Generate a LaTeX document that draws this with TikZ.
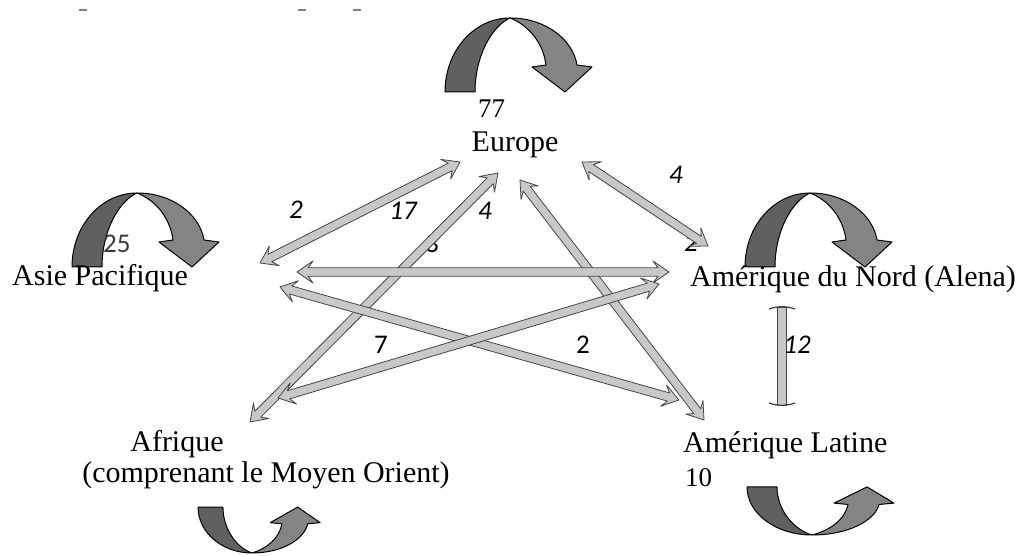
\documentclass[tikz,border=0pt]{standalone}
\usepackage{fontspec}
\setmainfont{Liberation Serif}
\newfontfamily\numfont{Carlito}
\usetikzlibrary{calc}
\definecolor{arrfill}{RGB}{200,200,200}
\definecolor{arrline}{RGB}{70,70,70}
\definecolor{loopdk}{RGB}{96,96,96}
\definecolor{looplt}{RGB}{132,132,132}
\definecolor{numgray}{RGB}{60,60,60}
\newcommand\myHW{11pt}
\newcommand\myHL{16pt}
\newcommand\myJL{11pt}
\newcommand\mySW{4.2pt}
\newcommand\dblarrow[2]{%
 \path[barrow] let \p1=($(#2)-(#1)$), \n1={atan2(\y1,\x1)}, \n2={\n1+90} in
 (#1) -- ($(#1)+(\n1:\myHL)+(\n2:\myHW)$) -- ($(#1)+(\n1:\myJL)+(\n2:\mySW)$)
 -- ($(#2)+(\n1:-\myJL)+(\n2:\mySW)$) -- ($(#2)+(\n1:-\myHL)+(\n2:\myHW)$) -- (#2)
 -- ($(#2)+(\n1:-\myHL)+(\n2:-\myHW)$) -- ($(#2)+(\n1:-\myJL)+(\n2:-\mySW)$)
 -- ($(#1)+(\n1:\myJL)+(\n2:-\mySW)$) -- ($(#1)+(\n1:\myHL)+(\n2:-\myHW)$) -- cycle;}
\newcommand\selfloop[4]{%
 \begin{scope}[shift={(#1,#2)}, xscale=#3, yscale=#4]
  \path[loopdark] (-65,-74) .. controls (-65,-33) and (-36,0) .. (0,0)
     .. controls (-18,-8) and (-35,-38) .. (-35,-74) -- cycle;
  \path[looplight] (0,0) .. controls (36,0) and (63,-22) .. (67,-47) -- (82,-49)
     -- (55,-74) -- (22,-49) -- (36,-47) .. controls (33,-24) and (18,-7) .. (0,0) -- cycle;
 \end{scope}}
\tikzset{
 barrow/.style={fill=arrfill, draw=arrline, line width=0.8pt, line join=round},
 tbar/.style={draw=arrline, line width=1.3pt},
 loopdark/.style={fill=loopdk, draw=black, line width=1pt, line join=round},
 looplight/.style={fill=looplt, draw=black, line width=1pt, line join=round},
 region/.style={font=\fontsize{30}{35}\selectfont, inner sep=0pt},
 inum/.style={font=\numfont\itshape\fontsize{27}{32}\selectfont, inner sep=0pt},
 unum/.style={font=\numfont\fontsize{27}{32}\selectfont, inner sep=0pt},
 snum/.style={font=\fontsize{27}{32}\selectfont, inner sep=0pt},
 tick/.style={draw=gray, line width=1.5pt}
}
\begin{document}
\begin{tikzpicture}[x=1pt,y=1pt]
\useasboundingbox (0,0) rectangle (1019,556);
\fill[white] (0,0) rectangle (1019,556);
% tiny marks at top
\draw[tick] (79,546) -- (87,546);
\draw[tick] (298,546) -- (306,546);
\draw[tick] (353,546) -- (361,546);
% hidden labels (drawn first)
\node[unum] (h3) at (432,312) {3};
\node[inum] (h2) at (691,313) {2};
\node[snum] (h8) at (213,38) {8};
% arrow end points
\coordinate (A1) at (260,293); \coordinate (E1) at (460,394);
\coordinate (F2) at (250,134); \coordinate (E2) at (498,383);
\coordinate (E3) at (520,376); \coordinate (L3) at (704,136);
\coordinate (E4) at (582,394); \coordinate (N4) at (708,310);
\coordinate (A5) at (297,284); \coordinate (N5) at (669,284);
\coordinate (A6) at (280,269); \coordinate (L6) at (679,156);
\coordinate (F7) at (278,158); \coordinate (N7) at (659,272);
\coordinate (N8) at (782,249); \coordinate (L8) at (782,151);
\dblarrow{A1}{E1}
\dblarrow{F2}{E2}
\dblarrow{E3}{L3}
\dblarrow{E4}{N4}
\dblarrow{A5}{N5}
\dblarrow{A6}{L6}
\dblarrow{F7}{N7}
\path[barrow] ($(N8)+(-4.5,0)$) rectangle ($(L8)+(4.5,0)$);
\draw[tbar] ($(N8)+(-13,-2)$) .. controls ($(N8)+(-5,1)$) and ($(N8)+(5,1)$) .. ($(N8)+(13,-2)$);
\draw[tbar] ($(L8)+(-13,2)$) .. controls ($(L8)+(-5,-1)$) and ($(L8)+(5,-1)$) .. ($(L8)+(13,2)$);
% self loops
\selfloop{510}{538}{1}{1}
\selfloop{137}{363}{1}{1}
\selfloop{810}{363}{1}{1}
\selfloop{252}{3}{0.83}{-0.62}
\selfloop{812}{21}{1}{-0.65}
% regions
\node[region, anchor=base] (eu) at (515,404) {Europe};
\node[region, anchor=base west] (as) at (12,270) {Asie Pacifique};
\node[region, anchor=base west] (na) at (690,269) {Amérique du Nord (Alena)};
\node[region, anchor=base] (af) at (177,104) {Afrique};
\node[region, anchor=base] (af2) at (266,73) {(comprenant le Moyen Orient)};
\node[region, anchor=base west] (la) at (683,103) {Amérique Latine};
% values
\node[snum, anchor=base west] (n77) at (478,438) {77};
\node[snum, anchor=base west] (n10) at (685,69) {10};
\node[unum, anchor=base west, text=numgray] (n25) at (103,303) {25};
\node[inum] (l1) at (296,346) {2};
\node[inum] (l2) at (403,345) {17};
\node[inum] (l3) at (485,345) {4};
\node[inum] (l4) at (676,381) {4};
\node[inum] (l5) at (797,211) {12};
\node[unum] (l6) at (381,211) {7};
\node[unum] (l7) at (583,211) {2};
\end{tikzpicture}
\end{document}
